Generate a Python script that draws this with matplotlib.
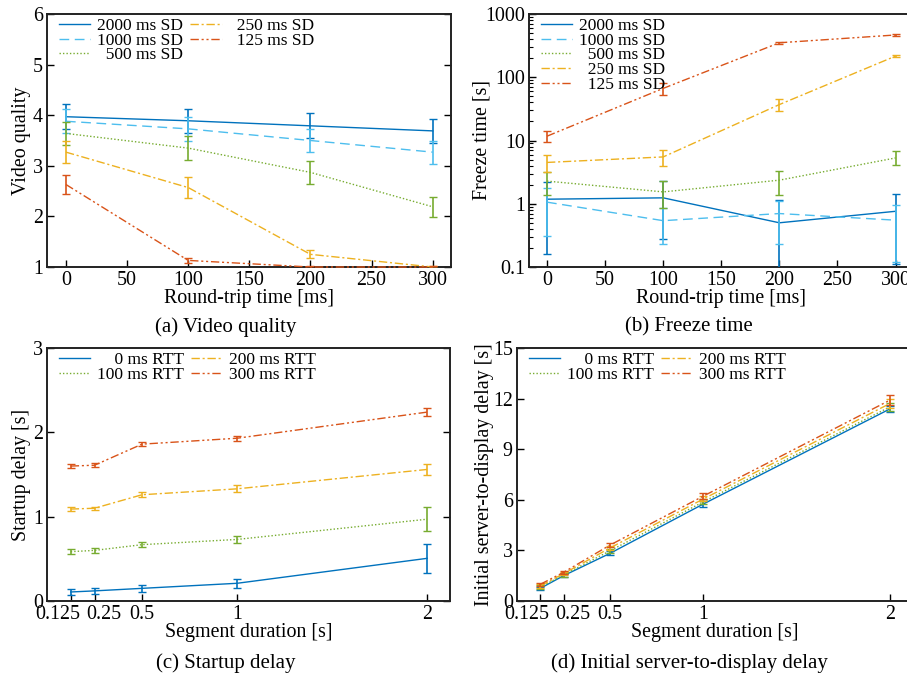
import numpy as np
import matplotlib
matplotlib.use("Agg")
import matplotlib.pyplot as plt
from matplotlib.ticker import NullFormatter, LogLocator
from matplotlib.transforms import offset_copy

plt.rcParams["font.family"] = ["Liberation Serif", "DejaVu Serif"]
plt.rcParams["font.size"] = 14.4

# ---- data ----
rtt = [0, 100, 200, 300]
sd_labels = ["2000 ms SD", "1000 ms SD", "  500 ms SD", "  250 ms SD", "  125 ms SD"]

quality = {
    "2000": [3.97, 3.89, 3.79, 3.69],
    "1000": [3.88, 3.73, 3.50, 3.27],
    "500": [3.64, 3.35, 2.87, 2.19],
    "250": [3.27, 2.57, 1.25, 1.00],
    "125": [2.63, 1.13, 1.00, 1.00],
}
quality_err = {
    "2000": [0.25, 0.24, 0.25, 0.24],
    "1000": [0.24, 0.23, 0.22, 0.23],
    "500": [0.22, 0.23, 0.22, 0.20],
    "250": [0.22, 0.20, 0.08, 0.01],
    "125": [0.18, 0.05, 0.01, 0.01],
}

freeze = {
    "2000": [1.18, 1.24, 0.50, 0.76],
    "1000": [1.06, 0.54, 0.70, 0.55],
    "500": [2.28, 1.54, 2.36, 5.3],
    "250": [4.5, 5.5, 37, 216],
    "125": [11.7, 66.7, 351, 466],
}
freeze_lo = {
    "2000": [0.16, 0.28, 0.05, 0.11],
    "1000": [0.31, 0.23, 0.23, 0.12],
    "500": [1.4, 0.85, 1.4, 4.1],
    "250": [3.2, 4.0, 29, 208],
    "125": [9.5, 53, 340, 455],
}
freeze_hi = {
    "2000": [2.2, 2.25, 1.15, 1.42],
    "1000": [1.75, 0.85, 1.1, 0.97],
    "500": [3.2, 2.25, 3.3, 6.8],
    "250": [5.9, 7.0, 45, 228],
    "125": [14, 80, 362, 478],
}

seg = [0.125, 0.25, 0.5, 1, 2]
seg_ticklabels = ["0.125", "0.25", "0.5", "1", "2"]
rtt_labels = ["    0 ms RTT", "100 ms RTT", "200 ms RTT", "300 ms RTT"]

startup = {
    "0": [0.107, 0.12, 0.15, 0.21, 0.506],
    "100": [0.585, 0.60, 0.668, 0.73, 0.97],
    "200": [1.09, 1.10, 1.26, 1.33, 1.56],
    "300": [1.60, 1.61, 1.86, 1.93, 2.24],
}
startup_err = {
    "0": [0.04, 0.04, 0.04, 0.05, 0.175],
    "100": [0.03, 0.03, 0.03, 0.04, 0.14],
    "200": [0.02, 0.02, 0.03, 0.04, 0.06],
    "300": [0.025, 0.025, 0.02, 0.03, 0.05],
}

s2d = {
    "0": [0.75, 1.50, 2.83, 5.75, 11.38],
    "100": [0.82, 1.55, 2.98, 5.88, 11.5],
    "200": [0.90, 1.62, 3.15, 6.05, 11.7],
    "300": [0.99, 1.70, 3.32, 6.22, 11.9],
}
s2d_err = {
    "0": [0.10, 0.10, 0.12, 0.15, 0.2],
    "100": [0.10, 0.10, 0.12, 0.15, 0.25],
    "200": [0.10, 0.10, 0.12, 0.15, 0.25],
    "300": [0.10, 0.10, 0.12, 0.18, 0.3],
}

# ---- styles ----
c_blue = "#0072bd"
c_lblue = "#4dbeee"
c_green = "#77ac30"
c_yellow = "#edb120"
c_red = "#d95319"
sd_colors = [c_blue, c_lblue, c_green, c_yellow, c_red]
sd_dash = ["-", (0, (7, 4)), (0, (1, 1.5)), (0, (6, 2, 1.5, 2)), (0, (6, 2, 1.5, 2, 1.5, 2))]
rtt_colors = [c_blue, c_green, c_yellow, c_red]
rtt_dash = ["-", (0, (1, 1.5)), (0, (6, 2, 1.5, 2)), (0, (6, 2, 1.5, 2, 1.5, 2))]

W, H = 907, 678
fig = plt.figure(figsize=(W / 100, H / 100), dpi=100)
TICKPAD = 3


def px_axes(left, top, right, bottom):
    return fig.add_axes([left / W, 1 - bottom / H, (right - left) / W, (bottom - top) / H])


def style(ax, right=True):
    ax.tick_params(direction="in", top=False, right=right, length=5, width=1, pad=TICKPAD)
    ax.tick_params(which="minor", direction="in", right=right, length=3, width=0.8)
    for sp in ax.spines.values():
        sp.set_linewidth(1.4)
        sp.set_color("#222222")


def legend(ax, ncol, x0=0.03, y0=0.985):
    return ax.legend(ncol=ncol, loc="upper left", bbox_to_anchor=(x0, y0), frameon=False,
                     fontsize=12.5, handlelength=1.8, handletextpad=0.4, columnspacing=0.4,
                     labelspacing=-0.08, borderaxespad=0, borderpad=0)


def draw(ax, x, mean, lo, hi, color, ls, label):
    m = np.array(mean, dtype=float)
    ax.plot(x, m, color=color, ls=ls, lw=1.0, label=label, clip_on=False, zorder=3)
    ax.errorbar(x, m, yerr=[m - np.array(lo), np.array(hi) - m], fmt="none",
                ecolor=color, elinewidth=1.2, capsize=3, capthick=1.0, zorder=3)


def seg_ticks(ax):
    # first two labels are nudged apart so they do not overlap
    ax.set_xticks(seg)
    ax.set_xticklabels([""] * 2 + seg_ticklabels[2:])
    for xv, lab, dx in zip(seg[:2], seg_ticklabels[:2], (-9.5, 6.5)):
        tr = offset_copy(ax.get_xaxis_transform(), fig=fig, x=dx, y=-TICKPAD, units="points")
        ax.text(xv, 0, lab, transform=tr, ha="center", va="top", fontsize=14.4)


# (a) video quality
ax = px_axes(47, 14, 451, 267)
for key, lab, col, ls in zip(quality, sd_labels, sd_colors, sd_dash):
    m = np.array(quality[key])
    e = np.array(quality_err[key])
    draw(ax, rtt, m, m - e, m + e, col, ls, lab)
ax.set_xlim(-15.5, 315)
ax.set_ylim(1, 6)
ax.set_xticks([0, 50, 100, 150, 200, 250, 300])
ax.set_yticks([1, 2, 3, 4, 5, 6])
ax.set_xlabel("Round-trip time [ms]", labelpad=-1)
ax.set_ylabel("Video quality", labelpad=1)
style(ax)
legend(ax, 2)

# (b) freeze time
ax = px_axes(529, 14, 913, 267)
for key, lab, col, ls in zip(freeze, sd_labels, sd_colors, sd_dash):
    draw(ax, rtt, freeze[key], freeze_lo[key], freeze_hi[key], col, ls, lab)
ax.set_yscale("log")
ax.set_xlim(-15.5, 315)
ax.set_ylim(0.1, 1000)
ax.set_xticks([0, 50, 100, 150, 200, 250, 300])
ax.set_yticks([0.1, 1, 10, 100, 1000])
ax.set_yticklabels(["0.1", "1", "10", "100", "1000"])
ax.yaxis.set_minor_locator(LogLocator(base=10, subs=np.arange(2, 10)))
ax.yaxis.set_minor_formatter(NullFormatter())
ax.set_xlabel("Round-trip time [ms]", labelpad=-1)
ax.set_ylabel("Freeze time [s]", labelpad=-5)
style(ax, right=False)
legend(ax, 1)

# (c) startup delay
ax = px_axes(47, 348, 450, 601)
for key, lab, col, ls in zip(startup, rtt_labels, rtt_colors, rtt_dash):
    m = np.array(startup[key])
    e = np.array(startup_err[key])
    draw(ax, seg, m, m - e, m + e, col, ls, lab)
ax.set_xlim(0, 2.12)
ax.set_ylim(0, 3)
seg_ticks(ax)
ax.set_yticks([0, 1, 2, 3])
ax.set_xlabel("Segment duration [s]", labelpad=-1)
ax.set_ylabel("Startup delay [s]", labelpad=1)
style(ax)
legend(ax, 2)

# (d) initial server-to-display delay
ax = px_axes(517, 348, 912, 601)
for key, lab, col, ls in zip(s2d, rtt_labels, rtt_colors, rtt_dash):
    m = np.array(s2d[key])
    e = np.array(s2d_err[key])
    draw(ax, seg, m, m - e, m + e, col, ls, lab)
ax.set_xlim(0, 2.12)
ax.set_ylim(0, 15)
seg_ticks(ax)
ax.set_yticks([0, 3, 6, 9, 12, 15])
ax.set_xlabel("Segment duration [s]", labelpad=-1)
ax.set_ylabel("Initial server-to-display delay [s]", labelpad=-0.5)
style(ax, right=False)
legend(ax, 2)

# captions
cap = dict(ha="center", va="center", fontsize=15)
fig.text(226 / W, 1 - 327 / H, "(a) Video quality", **cap)
fig.text(689 / W, 1 - 327 / H, "(b) Freeze time", **cap)
fig.text(226 / W, 1 - 663 / H, "(c) Startup delay", **cap)
fig.text(689 / W, 1 - 663 / H, "(d) Initial server-to-display delay", **cap)

fig.savefig("out.png", dpi=100)
